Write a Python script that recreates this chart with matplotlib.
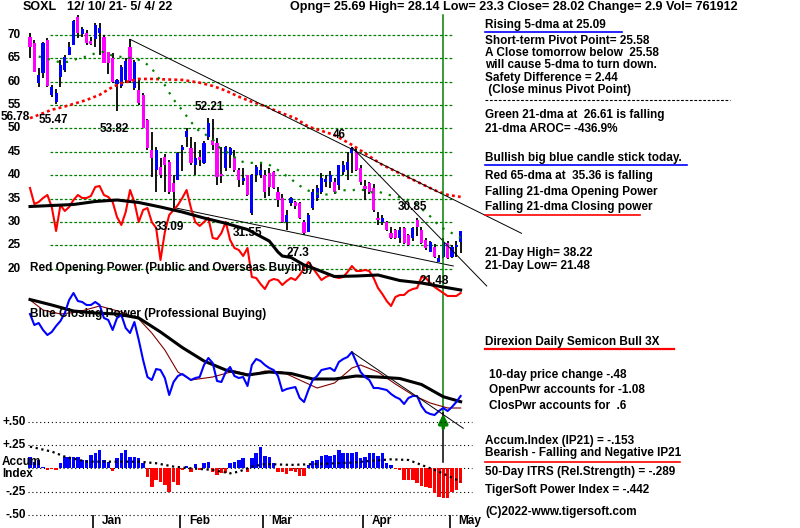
import matplotlib
matplotlib.use('Agg')
import matplotlib.pyplot as plt
from matplotlib.lines import Line2D
import matplotlib.transforms as mtransforms
import numpy as np

plt.rcParams['font.family'] = ['Liberation Sans', 'DejaVu Sans']
plt.rcParams['font.weight'] = 'bold'
FS = 8.5

# ---------------- data ----------------
months = ['Jan', 'Feb', 'Mar', 'Apr', 'May']
month_start = [15, 35, 54, 77, 97]          # trading-day index of first day of month
signal_day = 95

opens = [69.6, 68.3, 59.7, 61.8, 68.9, 57.2, 55.7, 61.0, 62.5, 65.7,
         67.9, 73.9, 70.2, 70.4, 68.7, 69.2, 70.4, 69.6, 66.4, 65.1,
         59.5, 59.0, 60.3, 67.5, 58.6, 58.2, 57.2, 51.8, 45.4, 41.1,
         41.8, 43.9, 42.8, 38.3, 39.0, 45.4, 48.2, 45.8, 42.2, 43.9,
         42.6, 48.2, 47.5, 46.9, 40.2, 41.5, 44.3, 43.9, 41.1, 38.8,
         40.0, 31.9, 40.0, 40.0, 40.0, 40.5, 40.7, 36.4, 35.1, 30.0,
         34.1, 34.2, 34.1, 30.0, 27.9, 33.0, 35.1, 36.4, 38.6, 38.6,
         38.6, 37.9, 40.7, 41.1, 44.8, 45.0, 41.5, 37.6, 38.3, 37.3,
         30.9, 30.0, 30.0, 27.6, 28.3, 26.6, 28.7, 27.2, 26.6, 30.4,
         28.3, 26.1, 23.6, 24.6, 21.5, 22.5, 25.5, 22.5, 24.6, 25.69]
highs = [70.4, 69.0, 62.9, 68.6, 69.4, 59.3, 58.5, 64.7, 65.7, 68.5,
         73.2, 74.3, 71.7, 71.1, 69.6, 72.6, 72.6, 70.0, 66.4, 66.2,
         60.5, 63.6, 65.0, 69.08, 64.7, 60.5, 57.5, 52.0, 49.3, 46.0,
         43.7, 44.5, 43.2, 40.0, 45.0, 46.5, 50.0, 48.2, 47.1, 45.5,
         47.3, 52.21, 52.0, 48.0, 46.0, 46.3, 46.0, 45.5, 41.6, 41.5,
         40.1, 40.3, 42.2, 42.5, 41.1, 41.5, 40.8, 37.5, 36.0, 32.6,
         35.3, 34.5, 34.3, 30.4, 32.0, 37.0, 37.9, 40.5, 40.0, 41.0,
         39.5, 42.2, 43.0, 45.0, 46.0, 45.8, 42.2, 39.0, 38.5, 38.22,
         32.1, 31.5, 30.2, 28.9, 28.5, 28.9, 28.9, 27.5, 29.0, 30.85,
         29.0, 26.5, 26.0, 25.2, 23.0, 26.5, 26.0, 25.0, 26.0, 28.14]
lows = [65.1, 62.0, 58.9, 60.8, 58.9, 56.7, 55.2, 58.9, 62.1, 65.7,
        67.9, 69.4, 69.6, 67.9, 67.9, 67.4, 65.7, 64.0, 61.7, 59.8,
        53.82, 58.7, 59.8, 59.8, 58.2, 55.0, 50.0, 45.5, 39.6, 36.4,
        39.4, 36.4, 36.0, 33.09, 39.0, 41.0, 46.0, 42.2, 40.0, 42.0,
        42.4, 47.5, 45.5, 37.9, 38.3, 41.0, 41.5, 40.7, 37.5, 37.9,
        35.5, 31.55, 38.5, 39.5, 35.1, 35.5, 37.0, 33.2, 29.8, 28.3,
        33.5, 32.8, 30.6, 27.3, 27.9, 32.6, 34.5, 35.9, 37.5, 37.3,
        36.0, 36.8, 40.0, 39.0, 40.5, 41.0, 37.9, 34.7, 36.0, 32.2,
        29.4, 29.4, 28.0, 26.3, 26.3, 25.5, 25.3, 24.9, 25.9, 27.0,
        25.3, 24.1, 23.5, 22.2, 21.48, 22.3, 22.0, 22.2, 22.5, 23.3]
closes = [67.5, 62.1, 61.5, 68.2, 59.1, 58.9, 57.6, 63.6, 65.3, 67.4,
          73.0, 70.4, 71.3, 68.3, 68.1, 72.2, 71.5, 64.0, 64.0, 60.0,
          60.3, 63.2, 64.5, 60.2, 64.3, 55.5, 50.1, 45.8, 43.7, 45.4,
          40.0, 42.2, 36.4, 36.4, 44.8, 46.0, 49.5, 42.6, 43.7, 43.3,
          46.9, 51.2, 46.5, 39.6, 39.8, 46.0, 45.8, 41.1, 39.0, 39.3,
          35.8, 40.0, 41.8, 41.1, 36.4, 37.5, 37.3, 34.7, 29.9, 31.5,
          35.1, 33.5, 30.9, 27.6, 31.5, 36.4, 37.3, 39.4, 39.2, 40.1,
          36.4, 42.2, 42.2, 42.8, 45.8, 41.1, 38.5, 37.0, 36.4, 32.6,
          30.4, 30.85, 28.3, 26.6, 26.6, 28.3, 25.5, 25.1, 28.7, 28.9,
          25.5, 24.4, 25.7, 22.5, 22.3, 25.7, 22.3, 24.6, 25.12, 28.02]

# 21-dma (green dotted) and 65-dma (red dotted), read at sample days
ma21_day = [2, 6, 7, 9, 10, 11, 13, 14, 15, 17, 18, 21, 24, 26, 28, 29, 31, 32, 33, 35,
            37, 38, 39, 40, 41, 42, 44, 45, 46, 48, 50, 52, 54, 56, 57, 58, 60, 61, 63, 64,
            66, 67, 69, 72, 74, 75, 77, 78, 80, 82, 84, 86, 88, 89, 91, 93, 94, 96, 97, 99]
ma21_val = [65.4, 64.4, 64.1, 64.3, 64.6, 65.0, 65.4, 65.7, 66.1, 66.4, 65.8, 65.3, 65.0, 64.4,
            62.9, 61.4, 59.3, 57.7, 56.2, 53.9, 51.4, 50.4, 49.3, 49.0, 48.2, 47.7, 45.4, 45.0,
            44.7, 43.1, 42.6, 42.7, 42.6, 41.8, 41.1, 40.4, 39.3, 38.3, 37.2, 36.7, 36.1, 35.7,
            36.0, 36.8, 36.7, 37.0, 36.8, 36.3, 36.5, 35.9, 35.5, 35.0, 34.3, 33.7, 32.0, 30.4,
            29.0, 28.2, 27.6, 26.61]
ma65_day = [0, 5, 8, 13, 16, 19, 21, 25, 28, 31, 35, 39, 42, 45, 48, 51, 54, 57, 61, 64,
            70, 74, 77, 81, 85, 89, 93, 96, 99]
ma65_val = [52.2, 54.0, 54.7, 56.1, 57.2, 58.9, 59.7, 60.6, 60.6, 60.5, 60.4, 59.8, 59.1, 58.1,
            56.8, 55.7, 54.8, 53.6, 52.2, 50.4, 48.6, 46.5, 44.7, 42.2, 40.4, 38.6, 36.8, 35.8,
            35.36]

# trend lines (day, price) pairs
trend_a_day, trend_a_val = [23, 113], [69.08, 27.57]
trend_b_day, trend_b_val = [74, 105], [46.0, 16.3]
trend_c_day, trend_c_val = [33, 97.3], [33.09, 20.58]

# Red Opening Power (relative units) and its slow black average
open_power = [112, 96, 98, 102, 105, 93, 69, 95, 89, 93, 100, 105, 102, 102, 104, 113, 114, 105,
              103, 98, 83, 75, 88, 110, 98, 78, 90, 92, 78, 72, 40, 68, 85, 90, 95, 102, 110, 92,
              78, 74, 78, 82, 62, 61, 67, 78, 60, 52, 50, 44, 52, 23, 22, 16, 11, 19, 21, 20, 15,
              19, 22, 20, 25, 32, 38, 32, 26, 20, 23, 25, 23, 22, 23, 28, 34, 29, 29, 30, 29, 22,
              12, 6, -1, -6, 3, 5, 5, 9, 11, 12, 23, 22, 17, 13, 10, 7, 4, 4, 4, 7]
op_avg_day = [0, 5, 10, 15, 20, 25, 30, 35, 40, 45, 50, 55, 57, 58, 60, 63, 65, 70, 75, 80, 85,
              90, 95, 99]
op_avg_val = [93.5, 94.5, 95.5, 98.5, 100, 97.5, 93, 88, 82, 76.7, 70.5, 59, 48, 44, 42.5, 35,
              32, 23.5, 24, 25, 19.5, 17, 13, 10]

# Blue Closing Power (relative units), black and brown averages
close_power = [116, 105, 107, 100, 95, 98, 104, 109, 117, 130, 137, 129, 128, 125, 125, 128, 125,
               112, 110, 100, 112, 115, 102, 97, 108, 90, 70, 53, 50, 61, 60, 52, 35, 48, 54, 56,
               53, 50, 52, 53, 65, 72, 67, 49, 48, 58, 63, 54, 52, 53, 44, 65, 71, 69, 65, 62, 60,
               54, 39, 41, 42, 43, 32, 28, 40, 50, 54, 60, 61, 62, 59, 68, 71, 73, 78, 68, 58, 53,
               50, 42, 42, 41, 40, 36, 33, 31, 26, 32, 34, 34, 24, 18, 16, 15, 19, 22, 19, 23, 28,
               34]
cp_avg_day = [0, 5, 10, 15, 20, 25, 30, 35, 40, 45, 50, 55, 60, 65, 70, 75, 80, 85, 90, 95, 99]
cp_avg_val = [130.5, 125, 119, 117, 116, 112, 98, 82.5, 69, 60, 55, 58, 56.5, 51, 51, 54, 53,
              51.5, 45.5, 33.3, 28.3]
cp_ma_day = [0, 3, 7, 11, 16, 21, 25, 28, 31, 34, 37, 42, 47, 51, 54, 58, 62, 66, 70, 74, 76, 80,
             84, 88, 92, 96, 99]
cp_ma_val = [130, 120, 116, 118, 124, 118, 111, 97, 80, 58, 50, 53, 59, 55, 59, 58, 50, 42, 47,
             62, 65, 58, 46, 35, 27, 22, 22]
cp_trend_day, cp_trend_val = [74, 99.6], [78, 1.7]

# Accumulation Index (IP21)
accum = [0.125, 0.071, 0.089, 0.018, -0.018, -0.011, -0.018, 0.054, 0.125, 0.125,
         0.125, 0.125, 0.089, 0.089, 0.143, 0.161, 0.196, 0.089, 0.071, -0.025,
         0.107, 0.161, 0.196, 0.125, 0.125, 0.107, 0.054, -0.089, -0.196, -0.125,
         -0.143, -0.179, -0.25, -0.143, -0.179, -0.018, 0.029, -0.036, 0.046, -0.018,
         0.061, 0.071, -0.036, -0.071, -0.054, -0.046, 0.054, 0.071, 0.089, 0.107,
         -0.036, 0.107, 0.161, 0.232, 0.132, 0.125, 0.054, -0.036, -0.036, -0.061,
         -0.025, -0.036, -0.082, -0.082, 0.036, 0.082, 0.089, 0.132, 0.143, 0.132,
         0.143, 0.196, 0.161, 0.161, 0.168, 0.171, 0.107, 0.118, 0.161, 0.161,
         0.132, 0.161, 0.061, 0.036, -0.011, -0.02, -0.125, -0.125, -0.125, -0.161,
         -0.189, -0.196, -0.214, -0.268, -0.304, -0.321, -0.321, -0.25, -0.232, -0.153]
accum_ma_day = [0, 5, 8, 13, 20, 25, 29, 33, 37, 42, 46, 48, 51, 54, 60, 66, 74, 79, 83, 87,
                90, 94, 99]
accum_ma_val = [0.232, 0.179, 0.125, 0.071, 0.071, 0.071, 0.054, 0.018, 0.0, -0.018, -0.054,
                -0.036, 0.018, 0.046, 0.036, 0.046, 0.061, 0.082, 0.096, 0.089, 0.036, -0.036,
                -0.143]
accum_levels = [0.5, 0.25, 0.0, -0.25, -0.5]
accum_labels = ['+.50', '+.25', '', '-.25', '-.50']
price_levels = [70, 65, 60, 55, 50, 45, 40, 35, 30, 25, 20]

# ---------------- figure / axes ----------------
W, H = 800, 528
fig = plt.figure(figsize=(8, 5.28), dpi=100)
fig.patch.set_facecolor('white')

def fx(x):
    return x / W

def fy(y):
    return 1 - y / H

X0, DX = 30.0, 4.35
XLIM = ((0 - X0) / DX, (W - X0) / DX)

def mkax(ylim):
    a = fig.add_axes([0, 0, 1, 1])
    a.set_xlim(XLIM)
    a.set_ylim(ylim)
    a.axis('off')
    a.patch.set_alpha(0)
    return a

ax = mkax((-35.48, 77.49))          # price
ax_pw = mkax((-228, 300))           # opening power
ax_cp = mkax((-98, 430))            # closing power
ax_ai = mkax((-0.64, 5.019))        # accumulation index

day = np.arange(len(closes))
o = np.array(opens); c = np.array(closes)
hi = np.array(highs); lo = np.array(lows)

# price grid
ax.hlines(price_levels, 4.6, 97.2, colors='#008000', linestyles=(0, (2.2, 1.6)), lw=0.9, zorder=2)

# candles
ax.vlines(day, lo, hi, color='black', lw=1.3, zorder=3)
body_col = np.where(c >= o, '#0000ff', '#ff00ff')
ax.bar(day, np.maximum(np.abs(c - o), 0.35), 0.72, bottom=np.minimum(o, c),
       color=body_col, lw=0, zorder=4)

# moving averages
ax.plot(ma65_day, ma65_val, color='#ff0000', lw=1.9, ls=(0, (1.1, 1.2)), zorder=5)
ax.plot(ma21_day, ma21_val, color='#008000', lw=1.6, ls=(0, (1, 3.2)), zorder=5)

# trend lines
for d, v in [(trend_a_day, trend_a_val), (trend_b_day, trend_b_val), (trend_c_day, trend_c_val)]:
    ax.plot(d, v, color='black', lw=0.7, zorder=5)

# opening power
ax_pw.plot(day, open_power, color='#ff0000', lw=1.5, zorder=3)
ax_pw.plot(op_avg_day, op_avg_val, color='black', lw=2.2, zorder=4)

# closing power
ax_cp.plot(cp_ma_day, cp_ma_val, color='#800000', lw=0.8, zorder=3)
ax_cp.plot(cp_avg_day, cp_avg_val, color='black', lw=2.2, zorder=4)
ax_cp.plot(day, close_power, color='#0000ff', lw=1.5, zorder=5)
ax_cp.plot(cp_trend_day, cp_trend_val, color='black', lw=0.7, zorder=5)

# signal line + arrow
ax.axvline(signal_day, ymin=fy(413), ymax=fy(15), color='#008000', lw=1.1, zorder=6)
ax.axvline(signal_day, ymin=fy(462), ymax=fy(413), color='black', lw=1.1, zorder=6)
ax_cp.annotate('', xy=(signal_day, 19), xytext=(signal_day, -1),
               arrowprops=dict(arrowstyle='-|>', color='#008000', lw=2.5, mutation_scale=13),
               zorder=7)

# accumulation index
ai = np.array(accum)
ax_ai.hlines(accum_levels, -0.46, 101.6, colors='black', linestyles=(0, (1, 2.5)), lw=0.8, zorder=2)
ax_ai.bar(day, ai, 0.8, color=np.where(ai >= 0, '#0000ff', '#ff0000'), lw=0, zorder=3)
ax_ai.plot(accum_ma_day, accum_ma_val, color='black', lw=1.6, ls=(0, (1, 1.6)), zorder=4)
tr_ai = mtransforms.blended_transform_factory(fig.transFigure, ax_ai.transData)
for lv, lb in zip(accum_levels, accum_labels):
    if lb:
        ax_ai.text(fx(26), lv, lb, transform=tr_ai, ha='right', va='center', fontsize=FS)
fig.text(fx(2), fy(462), 'Accum', ha='left', va='center', fontsize=FS)
fig.text(fx(2), fy(474), 'Index', ha='left', va='center', fontsize=FS)

# month ticks
ms = np.array(month_start) - 0.5
ax_ai.vlines(ms, -0.64, -0.5, color='black', lw=1.2)
for m, name in zip(ms, months):
    ax_ai.text(m + 2.0, -0.565, name, ha='left', va='center', fontsize=FS)

# price labels
tr_p = mtransforms.blended_transform_factory(fig.transFigure, ax.transData)
for lv in price_levels:
    ax.text(fx(21), lv, str(lv), transform=tr_p, ha='right', va='center', fontsize=FS, zorder=1)

# value annotations
def T(x, y, s, ha='left', color='black', z=1, fs=FS):
    fig.text(fx(x), fy(y), s, ha=ha, va='center', fontsize=fs, color=color, zorder=z)

T(1, 117, '56.78')
T(39, 120, '55.47')
T(100, 129, '53.82')
T(195, 107, '52.21')
T(333, 135, '46')
T(155, 227, '33.09')
T(233, 233, '31.55')
T(287, 253, '27.3')
T(398, 207, '30.85')
T(420, 281, '21.48')
T(30, 268, 'Red Opening Power (Public and Overseas Buying)')
T(30, 314, 'Blue Closing Power (Professional Buying)')

# header
T(23, 7, 'SOXL', fs=9)
T(67, 7, '12/ 10/ 21- 5/ 4/ 22', fs=9)
T(290, 7, 'Opng= 25.69 High= 28.14 Low= 23.3 Close= 28.02 Change= 2.9 Vol= 761912', fs=9.1)

# right panel
right = [
    (485, 25, 'Rising 5-dma at 25.09'),
    (485, 41, 'Short-term Pivot Point= 25.58'),
    (485, 53, 'A Close tomorrow below  25.58'),
    (485, 65, 'will cause 5-dma to turn down.'),
    (485, 78, 'Safety Difference = 2.44'),
    (485, 90, ' (Close minus Pivot Point)'),
    (485, 115, 'Green 21-dma at  26.61 is falling'),
    (485, 129, '21-dma AROC= -436.9%'),
    (485, 158, 'Bullish big blue candle stick today.'),
    (485, 176, 'Red 65-dma at  35.36 is falling'),
    (485, 192, 'Falling 21-dma Opening Power'),
    (485, 207, 'Falling 21-dma Closing power'),
    (485, 253, '21-Day High= 38.22'),
    (485, 266, '21-Day Low= 21.48'),
    (485, 342, 'Direxion Daily Semicon Bull 3X'),
    (489, 375, '10-day price change -.48'),
    (489, 390, 'OpenPwr accounts for -1.08'),
    (489, 406, 'ClosPwr accounts for  .6'),
    (485, 441, 'Accum.Index (IP21) = -.153'),
    (485, 453, 'Bearish - Falling and Negative IP21'),
    (485, 472, '50-Day ITRS (Rel.Strength) = -.289'),
    (485, 490, 'TigerSoft Power Index = -.442'),
    (485, 512, '(C)2022-www.tigersoft.com'),
]
for x, y, s in right:
    T(x, y, s)
fig.add_artist(Line2D([fx(485), fx(730)], [fy(100), fy(100)], color='black', lw=0.8,
                      ls=(0, (2.5, 1.5))))

def uline(x0, x1, y, col, lw=1.2):
    fig.add_artist(Line2D([fx(x0), fx(x1)], [fy(y), fy(y)], color=col, lw=lw))

uline(485, 622, 32, '#0000ff')
uline(485, 687, 165, '#0000ff')
uline(485, 640, 215, '#ff0000')
uline(485, 674, 349, '#ff0000', 1.6)
uline(485, 680, 462, '#ff0000')

fig.savefig('out.png', dpi=100, facecolor='white')
